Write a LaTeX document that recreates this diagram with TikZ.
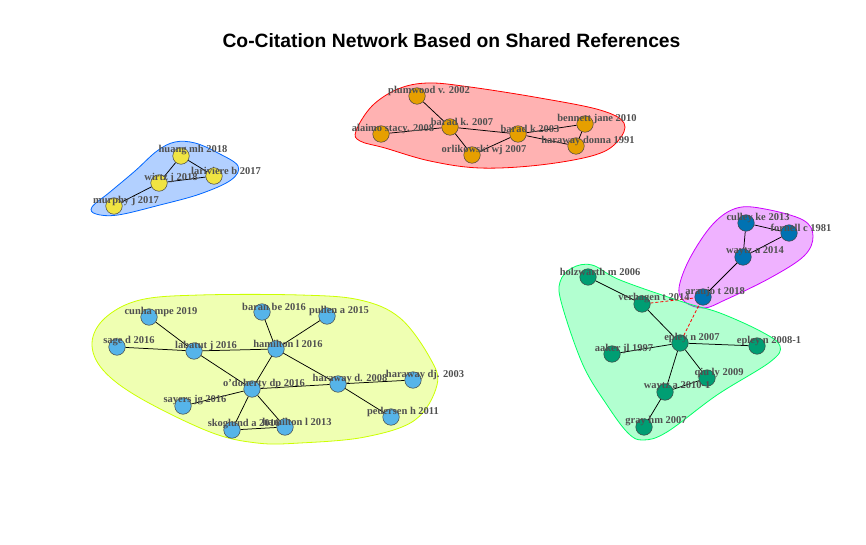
\documentclass[tikz,border=0pt]{standalone}
\usepackage{fontspec}
\setmainfont{Liberation Serif}
\newfontfamily\titlefont{Liberation Sans}
\usetikzlibrary{backgrounds}
\definecolor{cOrange}{HTML}{E69F00}
\definecolor{cYellow}{HTML}{F0E442}
\definecolor{cBlue}{HTML}{0072B2}
\definecolor{cGreen}{HTML}{009E73}
\definecolor{cSky}{HTML}{56B4E9}
\definecolor{hRed}{HTML}{FF0000}
\definecolor{hLime}{HTML}{CCFF00}
\definecolor{hGreen}{HTML}{00FF66}
\definecolor{hBlue}{HTML}{0066FF}
\definecolor{hPurple}{HTML}{CC00FF}
\definecolor{lblcol}{HTML}{505050}
\tikzset{
  vtx/.style={circle, minimum size=16.5pt, inner sep=0pt, draw=black!75, line width=0.5pt, fill=#1},
  lbl/.style={text=lblcol, font=\bfseries\fontsize{10.5}{12}\selectfont, inner sep=0pt},
  edg/.style={draw=black, line width=0.75pt},
  rededg/.style={draw=red, dash pattern=on 3pt off 2pt, line width=0.8pt},
  hull/.style={fill=#1, fill opacity=0.3, draw=#1, draw opacity=1, line width=0.8pt},
}
\newcommand\lb[2]{\node[lbl] at ([shift={(12,-5.5)}]#1) {#2};}
\begin{document}
\begin{tikzpicture}[x=1pt,y=-1pt]
\useasboundingbox (0,0) rectangle (866,545);
\node[font=\titlefont\bfseries\fontsize{19.3}{22}\selectfont, inner sep=0pt] (title) at (451.5,41) {Co-Citation Network Based on Shared References};

% vertices: red group
\node[vtx=cOrange] (plum) at (417,96) {};
\node[vtx=cOrange] (bk07) at (450,127) {};
\node[vtx=cOrange] (alai) at (381,134) {};
\node[vtx=cOrange] (orli) at (472,155) {};
\node[vtx=cOrange] (bk03) at (518,134) {};
\node[vtx=cOrange] (benn) at (585,124) {};
\node[vtx=cOrange] (hdon) at (576,146) {};
% blue group
\node[vtx=cYellow] (huan) at (181,156) {};
\node[vtx=cYellow] (lari) at (214,176) {};
\node[vtx=cYellow] (wirt) at (159,183) {};
\node[vtx=cYellow] (murp) at (114,206) {};
% purple group
\node[vtx=cBlue] (cull) at (746,223) {};
\node[vtx=cBlue] (forn) at (789,233) {};
\node[vtx=cBlue] (wayz) at (743,257) {};
\node[vtx=cBlue] (arau) at (703,297) {};
% green group
\node[vtx=cGreen] (holz) at (588,277) {};
\node[vtx=cGreen] (verh) at (642,304) {};
\node[vtx=cGreen] (ep07) at (680,343) {};
\node[vtx=cGreen] (aake) at (612,354) {};
\node[vtx=cGreen] (ep08) at (757,346) {};
\node[vtx=cGreen] (qiul) at (707,378) {};
\node[vtx=cGreen] (wa10) at (665,392) {};
\node[vtx=cGreen] (gray) at (644,427) {};
% yellow group
\node[vtx=cSky] (cunh) at (149,317) {};
\node[vtx=cSky] (sage) at (117,347) {};
\node[vtx=cSky] (laba) at (194,351) {};
\node[vtx=cSky] (bara) at (262,312) {};
\node[vtx=cSky] (ha16) at (276,349) {};
\node[vtx=cSky] (pull) at (327,316) {};
\node[vtx=cSky] (odoh) at (252,389) {};
\node[vtx=cSky] (saye) at (183,406) {};
\node[vtx=cSky] (skog) at (232,430) {};
\node[vtx=cSky] (ha13) at (285,427) {};
\node[vtx=cSky] (hd08) at (338,384) {};
\node[vtx=cSky] (hd03) at (413,380) {};
\node[vtx=cSky] (pede) at (391,417) {};

\begin{pgfonlayer}{background}
\fill[white] (0,0) rectangle (866,545);
% hulls
\draw[hull=hRed] plot[smooth cycle, tension=0.6] coordinates {(356,131) (372,106) (398,89) (428,83) (470,87) (540,98) (600,110) (624,123) (618,141) (595,155) (540,165) (480,168) (430,161) (385,148) (360,141)};
\draw[hull=hBlue] plot[smooth cycle, tension=0.6] coordinates {(92,207) (110,192) (135,171) (157,151) (175,142) (195,143) (218,153) (238,166) (231,180) (200,194) (160,205) (118,215) (96,214)};
\draw[hull=hPurple] plot[smooth cycle, tension=0.6] coordinates {(737,208) (765,209) (803,220) (813,236) (804,256) (770,278) (725,300) (704,308) (685,302) (679,288) (690,258) (713,224)};
\draw[hull=hGreen] plot[smooth cycle, tension=0.6] coordinates {(560,282) (572,268) (592,265) (620,280) (683,302) (720,313) (762,332) (780,346) (770,362) (717,395) (667,432) (643,440) (628,433) (607,405) (583,365) (562,305)};
\draw[hull=hLime] plot[smooth cycle, tension=0.6] coordinates {(92,343) (105,318) (140,300) (200,295) (300,295) (360,300) (400,318) (430,358) (437,385) (415,420) (365,437) (300,443) (257,443) (210,432) (140,398) (103,370)};
% edges
\draw[edg] (plum) -- (bk07);
\draw[edg] (alai) -- (bk07);
\draw[edg] (bk07) -- (orli);
\draw[edg] (bk07) -- (bk03);
\draw[edg] (orli) -- (bk03);
\draw[edg] (bk03) -- (benn);
\draw[edg] (bk03) -- (hdon);
\draw[edg] (benn) -- (hdon);
\draw[edg] (huan) -- (lari);
\draw[edg] (huan) -- (wirt);
\draw[edg] (wirt) -- (lari);
\draw[edg] (wirt) -- (murp);
\draw[edg] (cull) -- (forn);
\draw[edg] (cull) -- (wayz);
\draw[edg] (wayz) -- (forn);
\draw[edg] (wayz) -- (arau);
\draw[edg] (holz) -- (verh);
\draw[edg] (verh) -- (ep07);
\draw[edg] (aake) -- (ep07);
\draw[edg] (ep07) -- (ep08);
\draw[edg] (ep07) -- (qiul);
\draw[edg] (ep07) -- (wa10);
\draw[edg] (wa10) -- (qiul);
\draw[edg] (wa10) -- (gray);
\draw[rededg] (verh) -- (arau);
\draw[rededg] (ep07) -- (arau);
\draw[edg] (cunh) -- (laba);
\draw[edg] (sage) -- (laba);
\draw[edg] (laba) -- (ha16);
\draw[edg] (laba) -- (odoh);
\draw[edg] (bara) -- (ha16);
\draw[edg] (pull) -- (ha16);
\draw[edg] (ha16) -- (odoh);
\draw[edg] (ha16) -- (hd08);
\draw[edg] (odoh) -- (saye);
\draw[edg] (odoh) -- (skog);
\draw[edg] (odoh) -- (ha13);
\draw[edg] (skog) -- (ha13);
\draw[edg] (odoh) -- (hd08);
\draw[edg] (hd08) -- (hd03);
\draw[edg] (hd08) -- (pede);
\end{pgfonlayer}

% labels
\lb{plum}{plumwood v. 2002}
\lb{bk07}{barad k. 2007}
\lb{alai}{alaimo stacy. 2008}
\lb{orli}{orlikowski wj 2007}
\lb{bk03}{barad k 2003}
\lb{benn}{bennett jane 2010}
\lb{hdon}{haraway donna 1991}
\lb{huan}{huang mh 2018}
\lb{lari}{lariviere b 2017}
\lb{wirt}{wirtz j 2018}
\lb{murp}{murphy j 2017}
\lb{cull}{culley ke 2013}
\lb{forn}{fornell c 1981}
\lb{wayz}{waytz a 2014}
\lb{arau}{araujo t 2018}
\lb{holz}{holzwarth m 2006}
\lb{verh}{verhagen t 2014}
\lb{ep07}{epley n 2007}
\lb{aake}{aaker jl 1997}
\lb{ep08}{epley n 2008-1}
\lb{qiul}{qiu ly 2009}
\lb{wa10}{waytz a 2010-1}
\lb{gray}{gray hm 2007}
\lb{cunh}{cunha mpe 2019}
\lb{sage}{sage d 2016}
\lb{laba}{labatut j 2016}
\lb{bara}{baran be 2016}
\lb{ha16}{hamilton l 2016}
\lb{pull}{pullen a 2015}
\lb{odoh}{o'doherty dp 2016}
\lb{saye}{sayers jg 2016}
\lb{skog}{skoglund a 2016}
\lb{ha13}{hamilton l 2013}
\lb{hd08}{haraway d. 2008}
\lb{hd03}{haraway dj. 2003}
\lb{pede}{pedersen h 2011}
\end{tikzpicture}
\end{document}
